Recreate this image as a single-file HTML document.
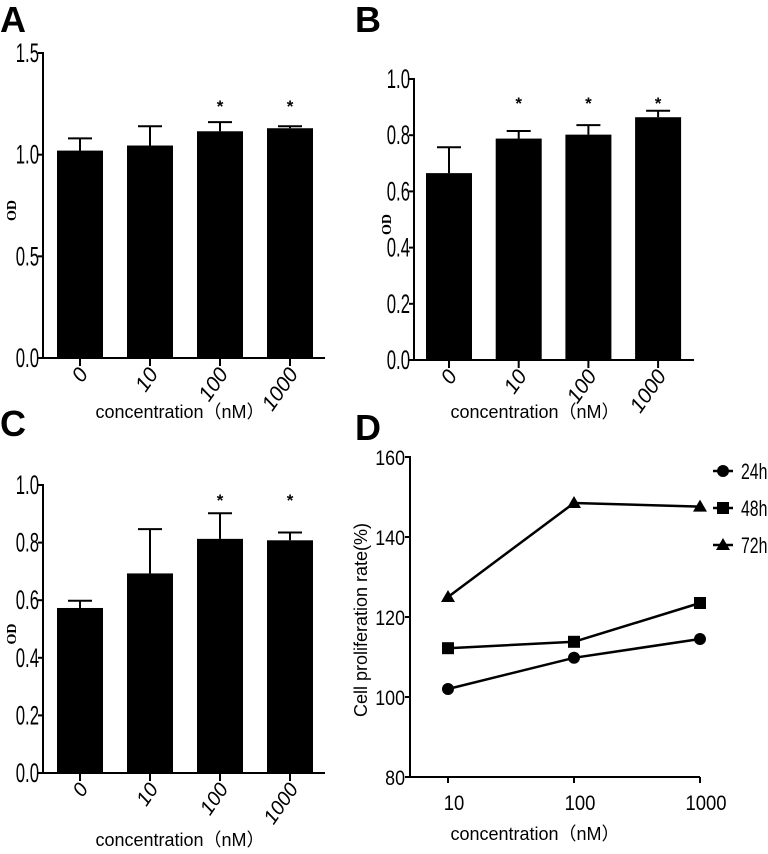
<!DOCTYPE html>
<html><head><meta charset="utf-8"><style>
body{margin:0;background:#fff;width:768px;height:854px;overflow:hidden}
svg{display:block;font-family:"Liberation Sans",sans-serif}
</style></head><body>
<svg id="fig" width="768" height="854" viewBox="0 0 768 854"></svg>
<script>
const barCats = ["0","10","100","1000"];
const aVals = [1.02,1.045,1.115,1.13];
const aErr = [1.08,1.14,1.16,1.14];
const aStars = [false,false,true,true];
const aTicks = ["0.0","0.5","1.0","1.5"];
const bVals = [0.665,0.788,0.802,0.864];
const bErr = [0.757,0.815,0.836,0.887];
const bStars = [false,true,true,true];
const bTicks = ["0.0","0.2","0.4","0.6","0.8","1.0"];
const cVals = [0.573,0.693,0.813,0.808];
const cErr = [0.598,0.847,0.902,0.835];
const cStars = [false,false,true,true];
const cTicks = ["0.0","0.2","0.4","0.6","0.8","1.0"];
const dCats = [10,100,1000];
const dTicks = [80,100,120,140,160];
const d24 = [102,109.8,114.5];
const d48 = [112.2,113.8,123.5];
const d72 = [125,148.5,147.6];

const NS="http://www.w3.org/2000/svg";
const svg=document.getElementById('fig');
function mk(tag,attrs,parent,text){const e=document.createElementNS(NS,tag);for(const k in attrs)e.setAttribute(k,attrs[k]);if(text!==undefined)e.textContent=text;(parent||svg).appendChild(e);return e;}

function barPanel(id,o,vals,errs,stars,ticks){
  const g=mk('g',{});
  
  
  const ymax=parseFloat(ticks[ticks.length-1]);
  const y=v=>o.y0-(v/ymax)*(o.y0-o.ytop);
  const x=i=>o.x0+o.first+i*o.step;
  for(let i=0;i<vals.length;i++){
    const cx=x(i);
    const eb=mk('line',{x1:cx,x2:cx,y1:y(vals[i]),y2:y(errs[i]),stroke:'#000','stroke-width':2},g);
    
    
    const cap=mk('line',{x1:cx-12,x2:cx+12,y1:y(errs[i]),y2:y(errs[i]),stroke:'#000','stroke-width':2},g);
    
    
    const r=mk('rect',{x:cx-23,y:y(vals[i]),width:46,height:o.y0-y(vals[i]),fill:'#000'},g);
    
    
    if(stars[i]){const s=mk('text',{x:cx,y:o.starY,'text-anchor':'middle','font-size':17,'font-weight':'bold'},g,'*');
      
      }
    mk('line',{x1:cx,x2:cx,y1:o.y0,y2:o.y0+8,stroke:'#000','stroke-width':2},g);
    const tl=mk('text',{transform:`translate(${cx+9},${o.y0+16}) rotate(-55)`,'text-anchor':'end','font-size':o.xfs||21,'font-style':'italic'},g,barCats[i]);
    
    
  }
  mk('line',{x1:o.x0,x2:o.x0,y1:o.ytop-1,y2:o.y0+1,stroke:'#000','stroke-width':2},g);
  mk('line',{x1:o.x0-1,x2:o.xend,y1:o.y0,y2:o.y0,stroke:'#000','stroke-width':2},g);
  ticks.forEach(t=>{const yy=y(parseFloat(t));
    mk('line',{x1:o.x0-5,x2:o.x0,y1:yy,y2:yy,stroke:'#000','stroke-width':2},g);
    const tx=mk('text',{x:0,y:0,transform:`translate(${o.x0-4},${yy+9}) scale(0.62,1)`,'text-anchor':'end','font-size':27},g,t);
    
    });
  const yt=mk('text',{transform:`translate(${o.odX},${(o.y0+o.ytop)/2+5}) rotate(-90)`,'text-anchor':'middle','font-size':14,'font-weight':'bold','font-family':'Liberation Serif, serif'},g,'OD');
  
  
  const xt=mk('text',{x:o.xlabX,y:o.xlabY,'text-anchor':'middle','font-size':18,'font-family':'Liberation Sans, Noto Sans CJK SC, sans-serif'},g,'concentration（nM）');
  
  
}
barPanel('a',{x0:43,ytop:53,y0:358,xend:325,first:37,step:70,starY:112,odX:16,xlabX:180,xlabY:418},aVals,aErr,aStars,aTicks);
barPanel('b',{x0:414,ytop:79,y0:360,xend:694,first:35,step:69.7,starY:109,odX:391,xlabX:535,xlabY:418},bVals,bErr,bStars,bTicks);
barPanel('c',{x0:43,ytop:485,y0:773,xend:325,first:37,step:70,starY:506,odX:16,xlabX:180,xlabY:846,xfs:20},cVals,cErr,cStars,cTicks);

[['A',0,32],['B',355,32],['C',0,436],['D',355,440]].forEach(p=>{const t=mk('text',{x:p[1],y:p[2],'font-size':36,'font-weight':'bold'},svg,p[0]);
  
  });

// Panel D
(function(){
  const g=mk('g',{});
  
  
  const X0=410,Y0=777,Ytop=457;
  const x=v=>448+(Math.log10(v)-1)*126;
  const y=v=>Y0-(v-80)/80*(Y0-Ytop);
  mk('line',{x1:X0,x2:X0,y1:Ytop-1,y2:Y0+1,stroke:'#000','stroke-width':2},g);
  mk('line',{x1:X0-1,x2:700,y1:Y0,y2:Y0,stroke:'#000','stroke-width':2},g);
  dTicks.forEach(t=>{mk('line',{x1:X0-5,x2:X0,y1:y(t),y2:y(t),stroke:'#000','stroke-width':2},g);
    const tx=mk('text',{x:0,y:0,transform:`translate(${X0-5},${y(t)+8}) scale(0.85,1)`,'text-anchor':'end','font-size':21},g,String(t));
    
    });
  dCats.forEach(c=>{mk('line',{x1:x(c),x2:x(c),y1:Y0,y2:Y0+6,stroke:'#000','stroke-width':2},g);
    const tx=mk('text',{x:0,y:0,transform:`translate(${x(c)+6},${Y0+33}) scale(0.88,1)`,'text-anchor':'middle','font-size':21},g,String(c));
    
    });
  const yt=mk('text',{transform:`translate(367,620) rotate(-90)`,'text-anchor':'middle','font-size':18},g,'Cell proliferation rate(%)');
  
  
  const xt=mk('text',{x:535,y:840,'text-anchor':'middle','font-size':18,'font-family':'Liberation Sans, Noto Sans CJK SC, sans-serif'},g,'concentration（nM）');
  
  
  function marker(shape,cx,cy,par){
    if(shape==='circle')return mk('circle',{cx,cy,r:6,fill:'#000'},par);
    if(shape==='square')return mk('rect',{x:cx-6,y:cy-6,width:12,height:12,fill:'#000'},par);
    return mk('polygon',{points:`${cx},${cy-7} ${cx+7},${cy+5} ${cx-7},${cy+5}`,fill:'#000'},par);
  }
  [[d24,'circle','24h'],[d48,'square','48h'],[d72,'triangle','72h']].forEach((s,si)=>{
    const pts=s[0].map((v,i)=>x(dCats[i])+','+y(v)).join(' ');
    const pl=mk('polyline',{points:pts,fill:'none',stroke:'#000','stroke-width':2.5},g);
    
    
    s[0].forEach((v,i)=>{const m=marker(s[1],x(dCats[i]),y(v),g);
      
      });
    const ly=471+si*37;
    const le=mk('g',{},g);
    
    
    mk('line',{x1:713,x2:733,y1:ly,y2:ly,stroke:'#000','stroke-width':2.5},le);
    marker(s[1],723,ly,le);
    mk('text',{x:0,y:0,'font-size':22,transform:`translate(741,${ly+8}) scale(0.72,1)`},le,s[2]);
  });
})();
</script>
</body></html>
